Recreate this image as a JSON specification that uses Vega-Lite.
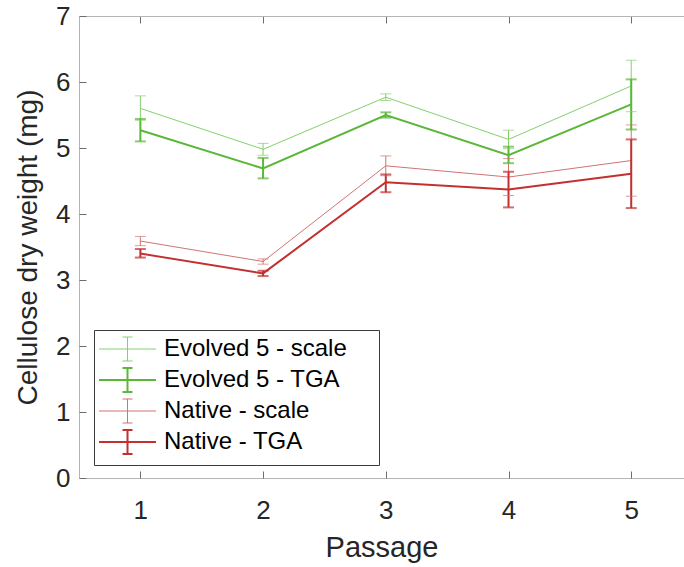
{
  "$schema": "https://vega.github.io/schema/vega-lite/v6.json",
  "width": 605,
  "height": 462,
  "autosize": {"type": "none"},
  "padding": {"left": 79, "top": 16, "right": 0, "bottom": 89},
  "background": "white",
  "config": {
    "view": {"stroke": null},
    "font": "Liberation Sans",
    "axis": {
      "grid": false,
      "domainColor": "#b4b4b4",
      "domainWidth": 1,
      "tickColor": "#6e6e6e",
      "tickWidth": 1,
      "tickSize": 7,
      "labelColor": "#262626",
      "titleColor": "#262626",
      "labelFont": "Liberation Sans",
      "titleFont": "Liberation Sans",
      "labelFontSize": 26,
      "titleFontSize": 28,
      "titleFontWeight": "normal"
    }
  },
  "resolve": {"axis": {"x": "independent", "y": "independent"}},
  "data": {
    "values": [
      {"passage": 1, "series": "Evolved 5 - scale", "method": "scale", "mean": 5.60, "lo": 5.42, "hi": 5.79},
      {"passage": 2, "series": "Evolved 5 - scale", "method": "scale", "mean": 4.98, "lo": 4.89, "hi": 5.07},
      {"passage": 3, "series": "Evolved 5 - scale", "method": "scale", "mean": 5.77, "lo": 5.72, "hi": 5.82},
      {"passage": 4, "series": "Evolved 5 - scale", "method": "scale", "mean": 5.13, "lo": 4.99, "hi": 5.27},
      {"passage": 5, "series": "Evolved 5 - scale", "method": "scale", "mean": 5.94, "lo": 5.55, "hi": 6.33},
      {"passage": 1, "series": "Evolved 5 - TGA", "method": "TGA", "mean": 5.27, "lo": 5.10, "hi": 5.44},
      {"passage": 2, "series": "Evolved 5 - TGA", "method": "TGA", "mean": 4.69, "lo": 4.54, "hi": 4.85},
      {"passage": 3, "series": "Evolved 5 - TGA", "method": "TGA", "mean": 5.50, "lo": 5.46, "hi": 5.54},
      {"passage": 4, "series": "Evolved 5 - TGA", "method": "TGA", "mean": 4.89, "lo": 4.77, "hi": 5.02},
      {"passage": 5, "series": "Evolved 5 - TGA", "method": "TGA", "mean": 5.66, "lo": 5.28, "hi": 6.04},
      {"passage": 1, "series": "Native - scale", "method": "scale", "mean": 3.59, "lo": 3.52, "hi": 3.66},
      {"passage": 2, "series": "Native - scale", "method": "scale", "mean": 3.28, "lo": 3.24, "hi": 3.32},
      {"passage": 3, "series": "Native - scale", "method": "scale", "mean": 4.73, "lo": 4.58, "hi": 4.88},
      {"passage": 4, "series": "Native - scale", "method": "scale", "mean": 4.56, "lo": 4.28, "hi": 4.84},
      {"passage": 5, "series": "Native - scale", "method": "scale", "mean": 4.81, "lo": 4.27, "hi": 5.35},
      {"passage": 1, "series": "Native - TGA", "method": "TGA", "mean": 3.40, "lo": 3.34, "hi": 3.47},
      {"passage": 2, "series": "Native - TGA", "method": "TGA", "mean": 3.10, "lo": 3.06, "hi": 3.14},
      {"passage": 3, "series": "Native - TGA", "method": "TGA", "mean": 4.48, "lo": 4.33, "hi": 4.60},
      {"passage": 4, "series": "Native - TGA", "method": "TGA", "mean": 4.37, "lo": 4.10, "hi": 4.64},
      {"passage": 5, "series": "Native - TGA", "method": "TGA", "mean": 4.61, "lo": 4.09, "hi": 5.13}
    ]
  },
  "layer": [
    {
      "transform": [{"filter": {"field": "method", "equal": "scale"}}],
      "mark": {"type": "line", "strokeWidth": 1},
      "encoding": {
        "x": {
          "field": "passage", "type": "quantitative",
          "scale": {"domain": [0.5, 5.43], "nice": false, "zero": false},
          "axis": {"orient": "bottom", "values": [1, 2, 3, 4, 5], "format": "d", "ticks": false, "title": "Passage", "titleFontSize": 29, "labelPadding": 19, "titlePadding": 10}
        },
        "y": {
          "field": "mean", "type": "quantitative",
          "scale": {"domain": [0, 7], "nice": false},
          "axis": {"orient": "left", "values": [0, 1, 2, 3, 4, 5, 6, 7], "ticks": false, "title": "Cellulose dry weight (mg)", "labelPadding": 9, "titlePadding": 13}
        },
        "color": {
          "field": "series", "type": "nominal",
          "scale": {
            "domain": ["Evolved 5 - scale", "Evolved 5 - TGA", "Native - scale", "Native - TGA"],
            "range": ["#86cf6f", "#5ab738", "#d27272", "#c2302f"]
          },
          "legend": {
            "orient": "none",
            "legendX": 15,
            "legendY": 314,
            "title": null,
            "symbolType": "M-1,0H3.071M1.036,-0.857V0.857M0.679,-0.857H1.393M0.679,0.857H1.393",
            "symbolSize": 784,
            "labelFontSize": 24,
            "labelFont": "Liberation Sans",
            "labelColor": "#000000",
            "labelOffset": 39,
            "labelLimit": 400,
            "labelExpr": "datum.label + ' \u2800'",
            "fillColor": "white",
            "strokeColor": "#3c3c3c",
            "padding": 7,
            "rowPadding": 1,
            "encode": {
              "symbols": {
                "update": {
                  "strokeWidth": {"signal": "indexof('' + datum.value, 'TGA') >= 0 ? 2 : 1"}
                }
              }
            }
          }
        }
      }
    },
    {
      "transform": [{"filter": {"field": "method", "equal": "TGA"}}],
      "mark": {"type": "line", "strokeWidth": 2},
      "encoding": {
        "x": {
          "field": "passage", "type": "quantitative",
          "axis": {"orient": "bottom", "offset": -7, "values": [1, 2, 3, 4, 5], "domain": false, "labels": false, "title": null}
        },
        "y": {
          "field": "mean", "type": "quantitative",
          "axis": {"orient": "left", "offset": -7, "values": [0, 1, 2, 3, 4, 5, 6, 7], "domain": false, "labels": false, "title": null}
        },
        "color": {"field": "series", "type": "nominal", "legend": null}
      }
    },
    {
      "transform": [{"filter": {"field": "method", "equal": "scale"}}],
      "mark": {"type": "rule", "strokeWidth": 1},
      "encoding": {
        "x": {
          "field": "passage", "type": "quantitative",
          "axis": {"orient": "top", "offset": -7, "values": [1, 2, 3, 4, 5], "domain": false, "labels": false, "title": null}
        },
        "y": {"field": "lo", "type": "quantitative", "axis": null},
        "y2": {"field": "hi"},
        "color": {"field": "series", "type": "nominal", "legend": null}
      }
    },
    {
      "transform": [{"filter": {"field": "method", "equal": "TGA"}}],
      "mark": {"type": "rule", "strokeWidth": 2},
      "encoding": {
        "x": {
          "field": "passage", "type": "quantitative",
          "axis": {"orient": "top", "ticks": false, "labels": false, "title": null}
        },
        "y": {"field": "lo", "type": "quantitative", "axis": null},
        "y2": {"field": "hi"},
        "color": {"field": "series", "type": "nominal", "legend": null}
      }
    },
    {
      "transform": [
        {"filter": {"field": "method", "equal": "scale"}},
        {"fold": ["lo", "hi"], "as": ["end", "cap"]}
      ],
      "mark": {"type": "tick", "orient": "horizontal", "size": 11, "thickness": 1},
      "encoding": {
        "x": {"field": "passage", "type": "quantitative", "axis": null},
        "y": {"field": "cap", "type": "quantitative", "axis": null},
        "color": {"field": "series", "type": "nominal", "legend": null}
      }
    },
    {
      "transform": [
        {"filter": {"field": "method", "equal": "TGA"}},
        {"fold": ["lo", "hi"], "as": ["end", "cap"]}
      ],
      "mark": {"type": "tick", "orient": "horizontal", "size": 11, "thickness": 2},
      "encoding": {
        "x": {"field": "passage", "type": "quantitative", "axis": null},
        "y": {"field": "cap", "type": "quantitative", "axis": null},
        "color": {"field": "series", "type": "nominal", "legend": null}
      }
    }
  ]
}
